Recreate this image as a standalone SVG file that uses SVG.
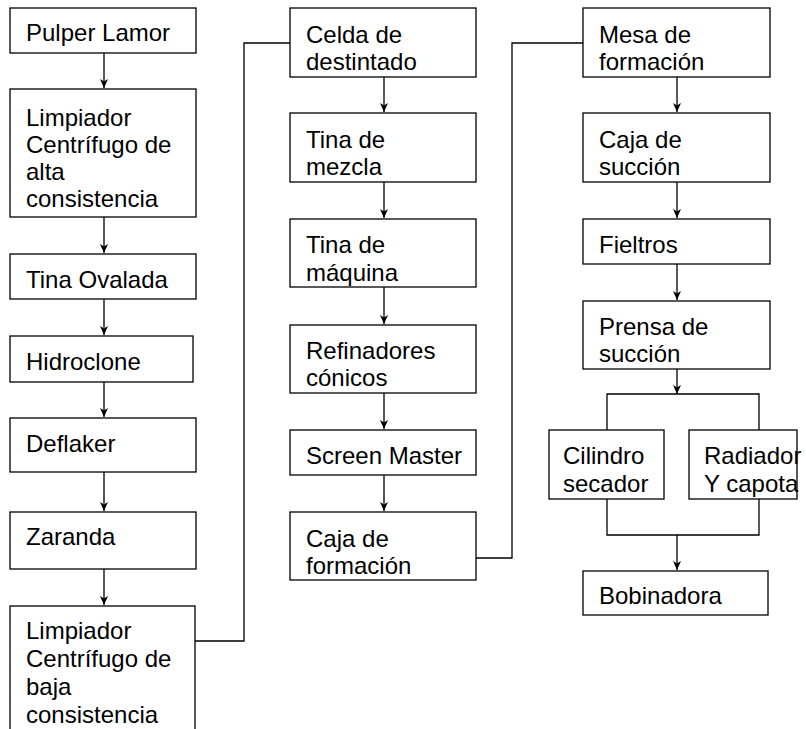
<svg xmlns="http://www.w3.org/2000/svg" width="806" height="729" viewBox="0 0 806 729">
<style>
.b{fill:#fff;stroke:#000;stroke-width:1.3}
.t{font-family:"Liberation Sans",Arial,sans-serif;font-size:24px;fill:#000}
.c{fill:none;stroke:#000;stroke-width:1.3}
</style>
<defs>
<marker id="ah" markerWidth="10" markerHeight="10" refX="9" refY="5" orient="auto" markerUnits="userSpaceOnUse">
<path d="M0,1 L9,5 L0,9 L2.5,5 z" fill="#000"/>
</marker>
</defs>
<rect width="806" height="729" fill="#fff"/>
<g id="connectors">
<path class="c" d="M104,53 V88" marker-end="url(#ah)"/>
<path class="c" d="M104,217 V253" marker-end="url(#ah)"/>
<path class="c" d="M104,299 V335" marker-end="url(#ah)"/>
<path class="c" d="M104,382 V417" marker-end="url(#ah)"/>
<path class="c" d="M104,472 V511" marker-end="url(#ah)"/>
<path class="c" d="M104,569 V605" marker-end="url(#ah)"/>
<path class="c" d="M195,641 H244 V43 H290"/>
<path class="c" d="M384,77 V112" marker-end="url(#ah)"/>
<path class="c" d="M384,182 V218" marker-end="url(#ah)"/>
<path class="c" d="M384,287 V324" marker-end="url(#ah)"/>
<path class="c" d="M384,393 V429" marker-end="url(#ah)"/>
<path class="c" d="M384,475 V511" marker-end="url(#ah)"/>
<path class="c" d="M476,558 H512 V43 H583"/>
<path class="c" d="M677,77 V112" marker-end="url(#ah)"/>
<path class="c" d="M677,182 V218" marker-end="url(#ah)"/>
<path class="c" d="M677,264 V300" marker-end="url(#ah)"/>
<path class="c" d="M677,369 V394" marker-end="url(#ah)"/>
<path class="c" d="M607,430 V394 H759 V430"/>
<path class="c" d="M607,499 V535 H759 V499"/>
<path class="c" d="M677,535 V570" marker-end="url(#ah)"/>
</g>
<g id="pulper"><rect class="b" x="10" y="8" width="186" height="45"/><text class="t" x="26" y="41">Pulper Lamor</text></g>
<g id="limpiador-alta"><rect class="b" x="10" y="89" width="186" height="128"/><text class="t" x="26" y="126">Limpiador</text><text class="t" x="26" y="153">Centrífugo de</text><text class="t" x="26" y="180">alta</text><text class="t" x="26" y="207">consistencia</text></g>
<g id="tina-ovalada"><rect class="b" x="10" y="254" width="186" height="45"/><text class="t" x="26" y="288">Tina Ovalada</text></g>
<g id="hidroclone"><rect class="b" x="10" y="336" width="183" height="46"/><text class="t" x="26" y="370">Hidroclone</text></g>
<g id="deflaker"><rect class="b" x="10" y="418" width="186" height="54"/><text class="t" x="26" y="452">Deflaker</text></g>
<g id="zaranda"><rect class="b" x="10" y="512" width="186" height="57"/><text class="t" x="26" y="545">Zaranda</text></g>
<g id="limpiador-baja"><rect class="b" x="10" y="606" width="185" height="140"/><text class="t" x="26" y="639">Limpiador</text><text class="t" x="26" y="667">Centrífugo de</text><text class="t" x="26" y="695">baja</text><text class="t" x="26" y="723">consistencia</text></g>
<g id="celda"><rect class="b" x="290" y="8" width="186" height="69"/><text class="t" x="306" y="43">Celda de</text><text class="t" x="306" y="70">destintado</text></g>
<g id="tina-mezcla"><rect class="b" x="290" y="113" width="186" height="69"/><text class="t" x="306" y="148">Tina de</text><text class="t" x="306" y="175">mezcla</text></g>
<g id="tina-maquina"><rect class="b" x="290" y="219" width="186" height="68"/><text class="t" x="306" y="253">Tina de</text><text class="t" x="306" y="281">máquina</text></g>
<g id="refinadores"><rect class="b" x="290" y="325" width="186" height="68"/><text class="t" x="306" y="359">Refinadores</text><text class="t" x="306" y="386">cónicos</text></g>
<g id="screen-master"><rect class="b" x="290" y="430" width="186" height="45"/><text class="t" x="306" y="464">Screen Master</text></g>
<g id="caja-formacion"><rect class="b" x="290" y="512" width="186" height="68"/><text class="t" x="306" y="547">Caja de</text><text class="t" x="306" y="574">formación</text></g>
<g id="mesa"><rect class="b" x="583" y="8" width="187" height="69"/><text class="t" x="599" y="43">Mesa de</text><text class="t" x="599" y="70">formación</text></g>
<g id="caja-succion"><rect class="b" x="583" y="113" width="187" height="69"/><text class="t" x="599" y="148">Caja de</text><text class="t" x="599" y="175">succión</text></g>
<g id="fieltros"><rect class="b" x="583" y="219" width="187" height="45"/><text class="t" x="599" y="253">Fieltros</text></g>
<g id="prensa"><rect class="b" x="583" y="301" width="187" height="68"/><text class="t" x="599" y="335">Prensa de</text><text class="t" x="599" y="362">succión</text></g>
<g id="cilindro"><rect class="b" x="549" y="430" width="115" height="69"/><text class="t" x="563" y="464">Cilindro</text><text class="t" x="563" y="492">secador</text></g>
<g id="radiador"><rect class="b" x="689" y="430" width="108" height="69"/><text class="t" x="704" y="464">Radiador</text><text class="t" x="704" y="492">Y capota</text></g>
<g id="bobinadora"><rect class="b" x="583" y="571" width="185" height="44"/><text class="t" x="599" y="604">Bobinadora</text></g>
</svg>
